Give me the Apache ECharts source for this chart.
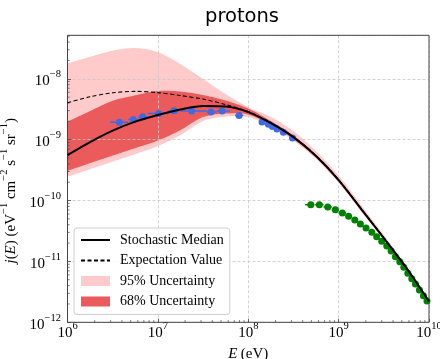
<!DOCTYPE html>
<html>
<head>
<meta charset="utf-8">
<script src="https://cdn.jsdelivr.net/npm/echarts@6/dist/echarts.min.js"></script>
<style>
  html, body { margin: 0; padding: 0; background: #fff; }
  #chart { width: 440px; height: 359px; }
</style>
</head>
<body>
<div id="chart"></div>
<script>
// Energy grid (eV) on which the model curves are tabulated
const energy = [1e6, 1.778e6, 3.162e6, 5.623e6, 1e7, 1.778e7, 3.162e7, 5.623e7, 1e8,
                1.778e8, 3.162e8, 5.623e8, 1e9, 1.778e9, 3.162e9, 5.623e9, 1e10];

// Model flux j(E) in eV^-1 cm^-2 s^-1 sr^-1
const median = [5.58e-10, 9.14e-10, 1.41e-9, 1.98e-9, 2.54e-9, 3.12e-9, 3.56e-9, 3.49e-9, 2.84e-9,
                1.87e-9, 1.10e-9, 5.38e-10, 2.17e-10, 7.25e-11, 2.42e-11, 7.79e-12, 2.20e-12];
const expectation = [4.04e-9, 5.06e-9, 5.89e-9, 6.21e-9, 5.93e-9, 5.30e-9, 4.64e-9, 3.77e-9, 2.89e-9,
                     1.91e-9, 1.12e-9, 5.48e-10, 2.21e-10, 7.39e-11, 2.47e-11, 7.94e-12, 2.24e-12];
const band95Upper = [1.79e-8, 2.30e-8, 2.90e-8, 3.19e-8, 2.74e-8, 1.74e-8, 9.89e-9, 5.61e-9, 3.43e-9,
                     2.35e-9, 1.38e-9, 6.50e-10, 2.57e-10, 8.43e-11, 2.71e-11, 8.39e-12, 2.28e-12];
const band95Lower = [2.46e-10, 3.29e-10, 4.37e-10, 5.80e-10, 7.85e-10, 1.19e-9, 2.02e-9, 2.39e-9, 2.35e-9,
                     1.64e-9, 9.66e-10, 4.80e-10, 1.94e-10, 6.59e-11, 2.24e-11, 7.23e-12, 2.04e-12];
const band68Upper = [1.97e-9, 2.95e-9, 4.35e-9, 5.34e-9, 6.28e-9, 6.17e-9, 5.40e-9, 4.39e-9, 3.24e-9,
                     2.02e-9, 1.17e-9, 5.58e-10, 2.25e-10, 7.45e-11, 2.47e-11, 7.94e-12, 2.24e-12];
const band68Lower = [3.08e-10, 4.13e-10, 5.48e-10, 7.28e-10, 9.66e-10, 1.44e-9, 2.35e-9, 2.68e-9, 2.58e-9,
                     1.74e-9, 1.02e-9, 5.08e-10, 2.05e-10, 6.90e-11, 2.33e-11, 7.50e-12, 2.11e-12];

// Measured proton spectrum (blue) with energy bin edges
const blueE    = [3.74e6, 5.35e6, 6.79e6, 1.02e7, 1.51e7, 2.37e7, 3.87e7, 5.13e7, 7.91e7,
                  1.42e8, 1.67e8, 1.85e8, 2.08e8, 2.45e8, 3.09e8];
const blueFlux = [1.93e-9, 2.15e-9, 2.38e-9, 2.70e-9, 2.98e-9, 2.95e-9, 2.84e-9, 2.95e-9, 2.49e-9,
                  1.95e-9, 1.79e-9, 1.64e-9, 1.49e-9, 1.32e-9, 1.06e-9];
const blueElo  = [2.95e6, 4.71e6, 6.08e6, 7.74e6, 1.31e7, 1.80e7, 3.48e7, 4.48e7, 7.14e7,
                  1.33e8, 1.58e8, 1.76e8, 1.98e8, 2.26e8, 2.83e8];
const blueEhi  = [4.71e6, 6.08e6, 7.74e6, 1.31e7, 1.76e7, 3.48e7, 4.48e7, 6.29e7, 8.83e7,
                  1.51e8, 1.76e8, 1.95e8, 2.19e8, 2.64e8, 3.38e8];

// High-energy spectrum (green) with energy bin edges
const greenE    = [4.92e8, 6.12e8, 7.59e8, 9.2e8, 1.10e9, 1.29e9, 1.51e9, 1.74e9, 2.01e9, 2.33e9, 2.64e9, 3.0e9,
                   3.41e9, 3.81e9, 4.25e9, 4.75e9, 5.26e9, 5.83e9, 6.45e9, 7.07e9, 7.83e9, 8.67e9, 9.5e9];
const greenFlux = [8.53e-11, 8.53e-11, 7.82e-11, 7.06e-11, 6.24e-11, 5.51e-11, 4.79e-11, 4.11e-11, 3.53e-11,
                   3.01e-11, 2.55e-11, 2.14e-11, 1.79e-11, 1.48e-11, 1.19e-11, 9.89e-12, 8.0e-12, 6.38e-12,
                   5.2e-12, 4.26e-12, 3.39e-12, 2.74e-12, 2.24e-12];
const greenElo  = [4.26e8, 5.5e8, 6.8e8, 8.4e8, 1.0e9, 1.2e9, 1.4e9, 1.62e9, 1.87e9, 2.17e9, 2.48e9, 2.82e9,
                   3.2e9, 3.6e9, 4.03e9, 4.5e9, 5.0e9, 5.55e9, 6.14e9, 6.76e9, 7.45e9, 8.25e9, 9.1e9];
const greenEhi  = [5.4e8, 6.8e8, 8.4e8, 1.0e9, 1.2e9, 1.4e9, 1.62e9, 1.87e9, 2.17e9, 2.48e9, 2.82e9, 3.2e9,
                   3.6e9, 4.03e9, 4.5e9, 5.0e9, 5.55e9, 6.14e9, 6.76e9, 7.45e9, 8.25e9, 9.1e9, 1.0e10];

// Axis ranges and labelled decades
const xMin = 1e6, xMax = 1e10;
const yMin = 1e-12, yMax = 5.18e-8;
const xTickExponents = [6, 7, 8, 9, 10];
const yTickExponents = [-12, -11, -10, -9, -8];
const minorMultipliers = [2, 3, 4, 5, 6, 7, 8, 9];

const SERIF = '"Liberation Serif", "DejaVu Serif", serif';
const AXIS_COLOR = '#444';

// Minor tick positions (k x 10^n) inside each axis range
function minorPositions(exps, lo, hi) {
  const out = [];
  const first = exps[0] - 1, last = exps[exps.length - 1];
  for (let n = first; n <= last; n++) {
    minorMultipliers.forEach(k => {
      const v = k * Math.pow(10, n);
      if (v > lo && v < hi) out.push(v);
    });
  }
  return out;
}
const xMinor = minorPositions(xTickExponents, xMin, xMax);
const yMinor = minorPositions(yTickExponents, yMin, yMax);

// Power-of-ten label as rich text: base "10" with raised exponent
function powerLabel(value, exps) {
  const e = Math.round(Math.log10(value));
  if (Math.abs(Math.log10(value) - e) > 1e-6 || exps.indexOf(e) < 0) return '';
  const sup = e < 0 ? '\u2212' + (-e) : String(e);
  return '{b|10}{s|' + sup + '}';
}
const tickRich = {
  b: { fontFamily: SERIF, fontSize: 15, lineHeight: 20, verticalAlign: 'bottom', color: '#000' },
  s: { fontFamily: SERIF, fontSize: 10.5, lineHeight: 9, verticalAlign: 'top', color: '#000' }
};
const nameRich = {
  i: { fontFamily: SERIF, fontSize: 15, fontStyle: 'italic', lineHeight: 20, verticalAlign: 'bottom', color: '#000' },
  r: { fontFamily: SERIF, fontSize: 15, lineHeight: 20, verticalAlign: 'bottom', color: '#000' },
  s: { fontFamily: SERIF, fontSize: 10.5, lineHeight: 9, verticalAlign: 'top', color: '#000' }
};

// Catmull-Rom smoothing of a pixel polyline
function spline(pts, steps) {
  const out = [];
  for (let i = 0; i < pts.length - 1; i++) {
    const p0 = pts[Math.max(i - 1, 0)], p1 = pts[i], p2 = pts[i + 1], p3 = pts[Math.min(i + 2, pts.length - 1)];
    for (let s = 0; s < steps; s++) {
      const t = s / steps, t2 = t * t, t3 = t2 * t;
      const f = d => 0.5 * (2 * p1[d] + (-p0[d] + p2[d]) * t +
        (2 * p0[d] - 5 * p1[d] + 4 * p2[d] - p3[d]) * t2 +
        (-p0[d] + 3 * p1[d] - 3 * p2[d] + p3[d]) * t3);
      out.push([f(0), f(1)]);
    }
  }
  out.push(pts[pts.length - 1]);
  return out;
}

// Filled uncertainty band between two tabulated curves
function bandSeries(name, lower, upper, color, z) {
  return {
    name: name, type: 'custom', z: z, clip: true, silent: true,
    itemStyle: { color: color },
    data: energy.map((e, i) => [e, upper[i]]),
    renderItem: function (params, api) {
      if (params.dataIndex !== 0) return null;
      const up = energy.map((e, i) => api.coord([e, upper[i]]));
      const lo = energy.map((e, i) => api.coord([e, lower[i]]));
      const pts = spline(up, 12).concat(spline(lo, 12).reverse());
      return { type: 'polygon', shape: { points: pts }, style: { fill: color } };
    }
  };
}

// Horizontal energy-bin error bars
function errorBars(E, flux, lo, hi, color) {
  return {
    type: 'custom', z: 5, clip: true, silent: true,
    encode: { x: 0, y: 1 },
    data: E.map((e, i) => [e, flux[i], lo[i], hi[i]]),
    renderItem: function (params, api) {
      const a = api.coord([api.value(2), api.value(1)]);
      const b = api.coord([api.value(3), api.value(1)]);
      return { type: 'line', shape: { x1: a[0], y1: a[1], x2: b[0], y2: b[1] },
               style: { stroke: color, lineWidth: 1.5 } };
    }
  };
}

// Short inward minor ticks along the bottom and left axes
function minorTicks(values, horizontal) {
  return {
    type: 'custom', z: 3, clip: false, silent: true,
    data: values.map(v => horizontal ? [v, yMin] : [xMin, v]),
    renderItem: function (params, api) {
      const c = api.coord([api.value(0), api.value(1)]);
      const shape = horizontal
        ? { x1: c[0], y1: c[1], x2: c[0], y2: c[1] - 2.2 }
        : { x1: c[0], y1: c[1], x2: c[0] + 2.2, y2: c[1] };
      return { type: 'line', shape: shape, style: { stroke: AXIS_COLOR, lineWidth: 0.7 } };
    }
  };
}

const gridLine = { show: true, lineStyle: { color: '#c8c8c8', width: 0.8, type: [3, 2] } };
const tickStyle = { show: true, inside: true, length: 3.5, lineStyle: { color: AXIS_COLOR, width: 0.8 } };
const hiddenSymbol = { opacity: 0 };

const chart = echarts.init(document.getElementById('chart'), null, { renderer: 'canvas' });
chart.setOption({
  animation: false,
  backgroundColor: '#fff',
  title: {
    text: 'protons', left: 200, top: 2,
    textStyle: { fontFamily: '"DejaVu Sans", sans-serif', fontSize: 19.5, fontWeight: 'normal', color: '#000' }
  },
  grid: {
    left: 67.5, top: 35.3, width: 361.5, height: 287,
    show: true, borderColor: AXIS_COLOR, borderWidth: 1, backgroundColor: 'transparent',
    z: 2, outerBoundsMode: 'none', containLabel: false
  },
  legend: {
    orient: 'vertical', left: 74, top: 228,
    padding: [4, 6, 5, 6], itemGap: 4.5, itemWidth: 29, itemHeight: 10,
    backgroundColor: 'rgba(255,255,255,0.85)', borderColor: '#d0d0d0', borderWidth: 1, borderRadius: 3,
    textStyle: { fontFamily: SERIF, fontSize: 14, lineHeight: 16, color: '#000', padding: [0, 0, 0, 5] },
    selectedMode: false,
    data: [
      { name: 'Stochastic Median', itemStyle: hiddenSymbol },
      { name: 'Expectation Value', itemStyle: hiddenSymbol },
      { name: '95% Uncertainty', icon: 'rect' },
      { name: '68% Uncertainty', icon: 'rect' }
    ]
  },
  xAxis: {
    type: 'log', logBase: 10, min: xMin, max: xMax, z: 1.5,
    axisLine: { show: false },
    axisTick: tickStyle,
    splitLine: gridLine,
    axisLabel: { margin: -2, formatter: v => powerLabel(v, xTickExponents), rich: tickRich },
    name: '{i|E} {r|(eV)}', nameLocation: 'middle', nameGap: 15,
    nameTextStyle: { rich: nameRich }
  },
  yAxis: {
    type: 'log', logBase: 10, min: yMin, max: yMax, z: 1.5,
    axisLine: { show: false },
    axisTick: tickStyle,
    splitLine: gridLine,
    axisLabel: { margin: 6.5, showMaxLabel: false, formatter: v => powerLabel(v, yTickExponents), rich: tickRich },
    name: '{i|j}{r|(}{i|E}{r|) (eV}{s|\u22121}{r| cm}{s|\u22122}{r| s}{s|\u22121}{r| sr}{s|\u22121}{r|)}',
    nameLocation: 'middle', nameGap: 41, nameRotate: 90,
    nameTextStyle: { rich: nameRich, padding: [0, 24, 0, 0] }
  },
  series: [
    bandSeries('95% Uncertainty', band95Lower, band95Upper, '#ffcaca', 1),
    bandSeries('68% Uncertainty', band68Lower, band68Upper, '#eb5b5b', 1.2),
    errorBars(blueE, blueFlux, blueElo, blueEhi, '#4169e1'),
    errorBars(greenE, greenFlux, greenElo, greenEhi, '#008000'),
    {
      type: 'scatter', z: 6, silent: true, symbolSize: 7,
      data: blueE.map((e, i) => [e, blueFlux[i]]),
      itemStyle: { color: '#4169e1', opacity: 1 }
    },
    {
      type: 'scatter', z: 6, silent: true, symbolSize: 7,
      data: greenE.map((e, i) => [e, greenFlux[i]]),
      itemStyle: { color: '#008000', opacity: 1 }
    },
    {
      name: 'Stochastic Median', type: 'line', z: 8, smooth: 0.3, symbol: 'none', silent: true,
      data: energy.map((e, i) => [e, median[i]]),
      lineStyle: { color: '#000', width: 2 }, itemStyle: { color: '#000' }
    },
    {
      name: 'Expectation Value', type: 'line', z: 8, smooth: 0.3, symbol: 'none', silent: true,
      data: energy.map((e, i) => [e, expectation[i]]),
      lineStyle: { color: '#000', width: 1.1, type: [4, 2.5] }, itemStyle: { color: '#000' }
    },
    minorTicks(xMinor, true),
    minorTicks(yMinor, false)
  ]
});
</script>
</body>
</html>
